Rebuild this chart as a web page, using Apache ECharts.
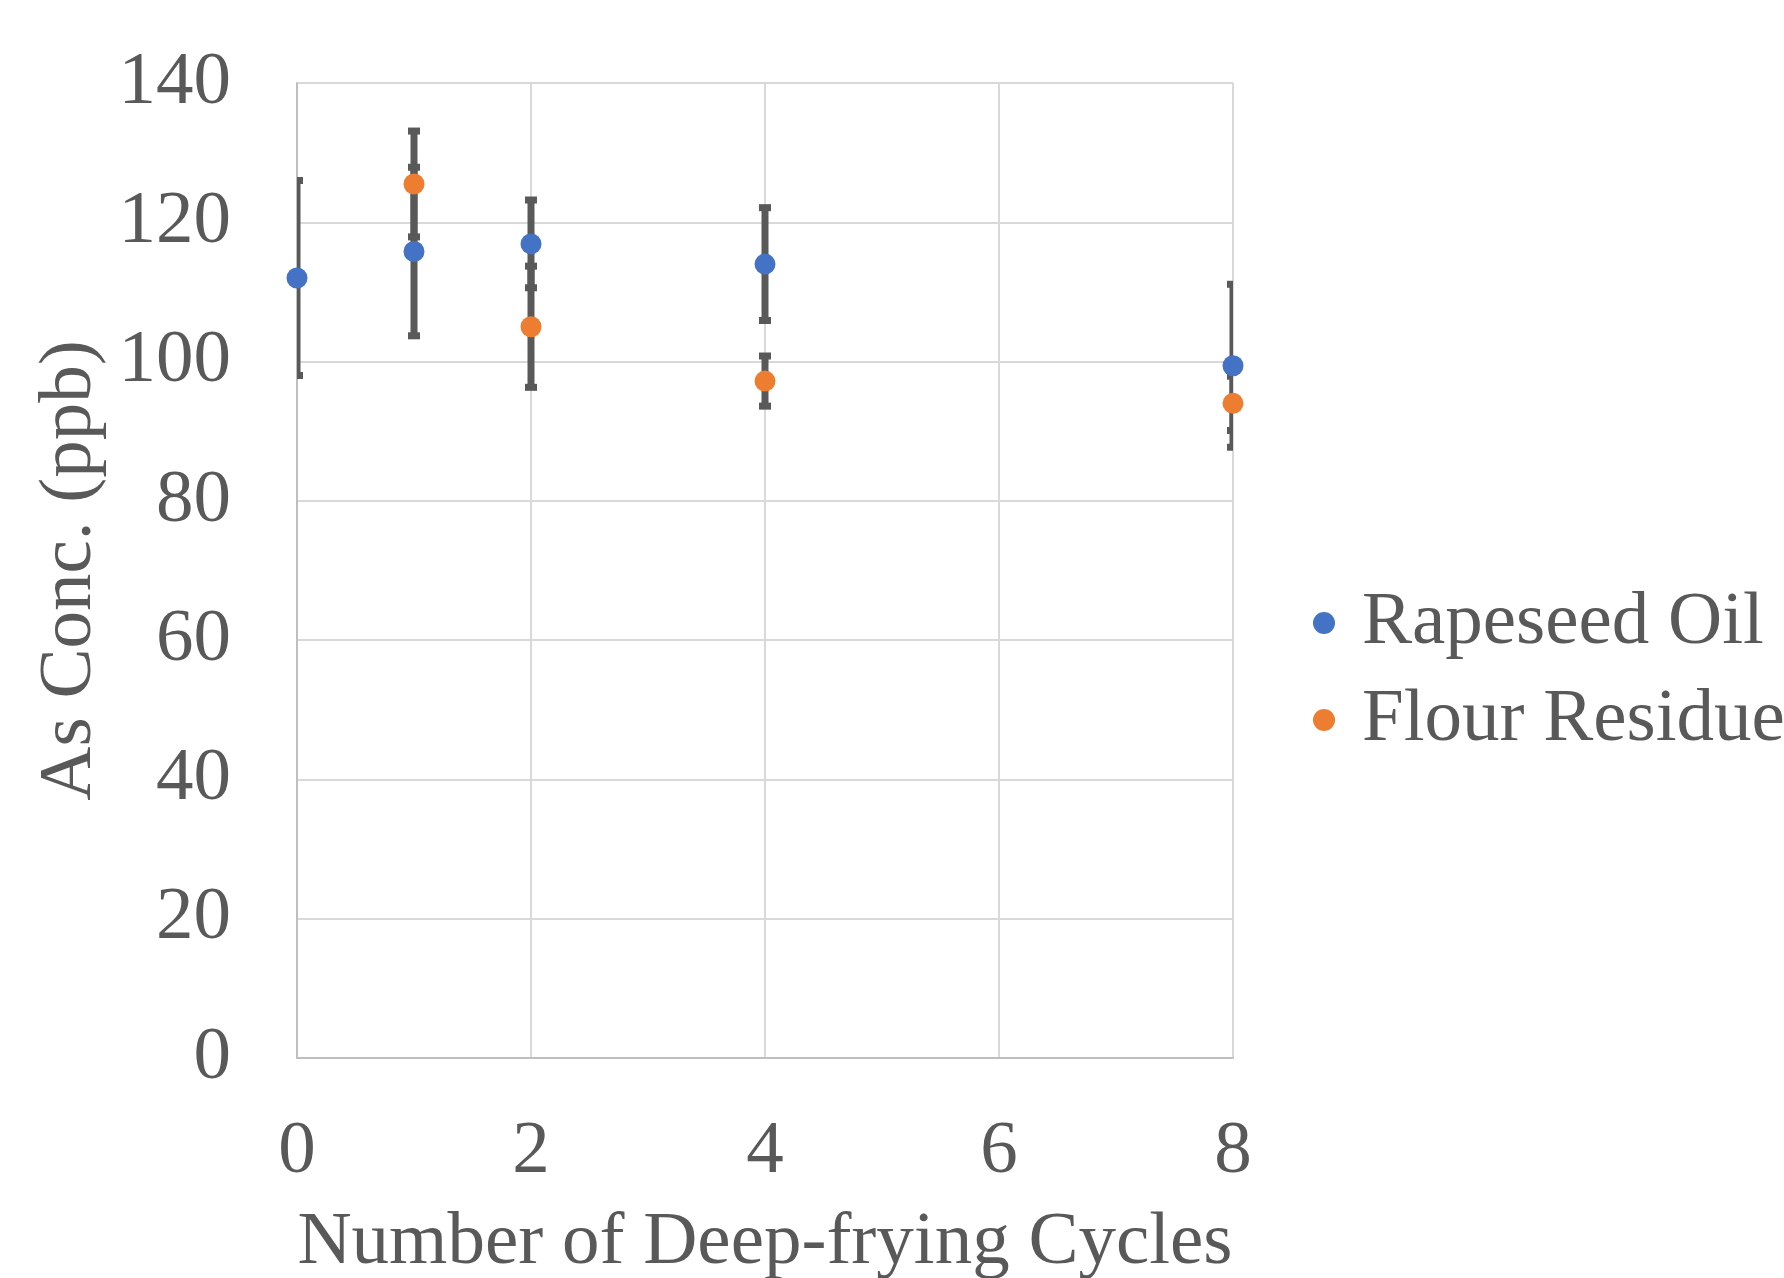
<!DOCTYPE html>
<html>
<head>
<meta charset="utf-8">
<script src="https://cdn.jsdelivr.net/npm/echarts@6/dist/echarts.min.js"></script>
<style>
html,body{margin:0;padding:0;background:#fff;}
#chart{width:1784px;height:1278px;}
</style>
</head>
<body>
<div id="chart"></div>
<script>
var xTicks = [0, 2, 4, 6, 8];
var yTicks = [0, 20, 40, 60, 80, 100, 120, 140];
var rapeseedCycles = [0, 1, 2, 4, 8];
var rapeseedValues = [112.0, 115.8, 116.9, 114.0, 99.4];
var rapeseedErrors = [14.0, 12.1, 6.3, 8.1, 11.7];
var flourCycles = [1, 2, 4, 8];
var flourValues = [125.5, 105.0, 97.2, 94.0];
var flourErrors = [7.6, 8.7, 3.6, 3.9];

var FONT = '"Liberation Serif", "Times New Roman", serif';
var TEXT = '#595959';
var FS = 75;

function pairs(xs, ys) { return xs.map(function (x, i) { return [x, ys[i]]; }); }
function errData(xs, ys, es) { return xs.map(function (x, i) { return [x, ys[i] - es[i], ys[i] + es[i]]; }); }

function renderErr(params, api) {
  var lo = api.coord([api.value(0), api.value(1)]);
  var hi = api.coord([api.value(0), api.value(2)]);
  var st = { stroke: '#595959', lineWidth: 7 };
  var cw = 6;
  return {
    type: 'group',
    children: [
      { type: 'line', shape: { x1: lo[0], y1: lo[1], x2: hi[0], y2: hi[1] }, style: st },
      { type: 'line', shape: { x1: lo[0] - cw, y1: lo[1], x2: lo[0] + cw, y2: lo[1] }, style: st },
      { type: 'line', shape: { x1: hi[0] - cw, y1: hi[1], x2: hi[0] + cw, y2: hi[1] }, style: st }
    ]
  };
}

var chart = echarts.init(document.getElementById('chart'));
chart.setOption({
  animation: false,
  backgroundColor: '#fff',
  grid: { left: 297, right: 551, top: 83, bottom: 220, containLabel: false, outerBoundsMode: 'none' },
  legend: {
    orient: 'vertical',
    left: 1308,
    top: 576,
    itemGap: 13,
    itemWidth: 22,
    itemHeight: 22,
    data: [
      { name: 'Rapeseed Oil', icon: 'circle' },
      { name: 'Flour Residue', icon: 'circle' }
    ],
    textStyle: { fontFamily: FONT, fontSize: FS, color: TEXT, lineHeight: 84, padding: [0, 0, 0, 22] }
  },
  xAxis: {
    type: 'value',
    min: 0, max: 8, interval: 2,
    name: 'Number of Deep-frying Cycles',
    nameLocation: 'middle',
    nameGap: 148,
    nameTextStyle: { fontFamily: FONT, fontSize: FS, color: TEXT },
    axisLine: { show: true, lineStyle: { color: '#bfbfbf', width: 2 } },
    axisTick: { show: false },
    axisLabel: { fontFamily: FONT, fontSize: FS, color: TEXT, margin: 57,
      formatter: function (v) { return xTicks.indexOf(v) >= 0 ? String(v) : ''; } },
    splitLine: { show: true, lineStyle: { color: '#d9d9d9', width: 2 } }
  },
  yAxis: {
    type: 'value',
    min: 0, max: 140, interval: 20,
    name: 'As Conc. (ppb)',
    nameLocation: 'middle',
    nameGap: 183,
    nameTextStyle: { fontFamily: FONT, fontSize: FS, color: TEXT },
    axisLine: { show: true, lineStyle: { color: '#bfbfbf', width: 2 } },
    axisTick: { show: false },
    axisLabel: { fontFamily: FONT, fontSize: FS, color: TEXT, margin: 66,
      formatter: function (v) { return yTicks.indexOf(v) >= 0 ? String(v) : ''; } },
    splitLine: { show: true, lineStyle: { color: '#d9d9d9', width: 2 } }
  },
  series: [
    { type: 'custom', name: 'errR', clip: true, z: 2, renderItem: renderErr,
      data: errData(rapeseedCycles, rapeseedValues, rapeseedErrors), silent: true },
    { type: 'custom', name: 'errF', clip: true, z: 2, renderItem: renderErr,
      data: errData(flourCycles, flourValues, flourErrors), silent: true },
    { type: 'scatter', name: 'Rapeseed Oil', z: 5, symbol: 'circle', symbolSize: 21,
      itemStyle: { color: '#4472C4', opacity: 1 }, data: pairs(rapeseedCycles, rapeseedValues), clip: false },
    { type: 'scatter', name: 'Flour Residue', z: 5, symbol: 'circle', symbolSize: 21,
      itemStyle: { color: '#ED7D31', opacity: 1 }, data: pairs(flourCycles, flourValues), clip: false }
  ]
});
</script>
</body>
</html>
